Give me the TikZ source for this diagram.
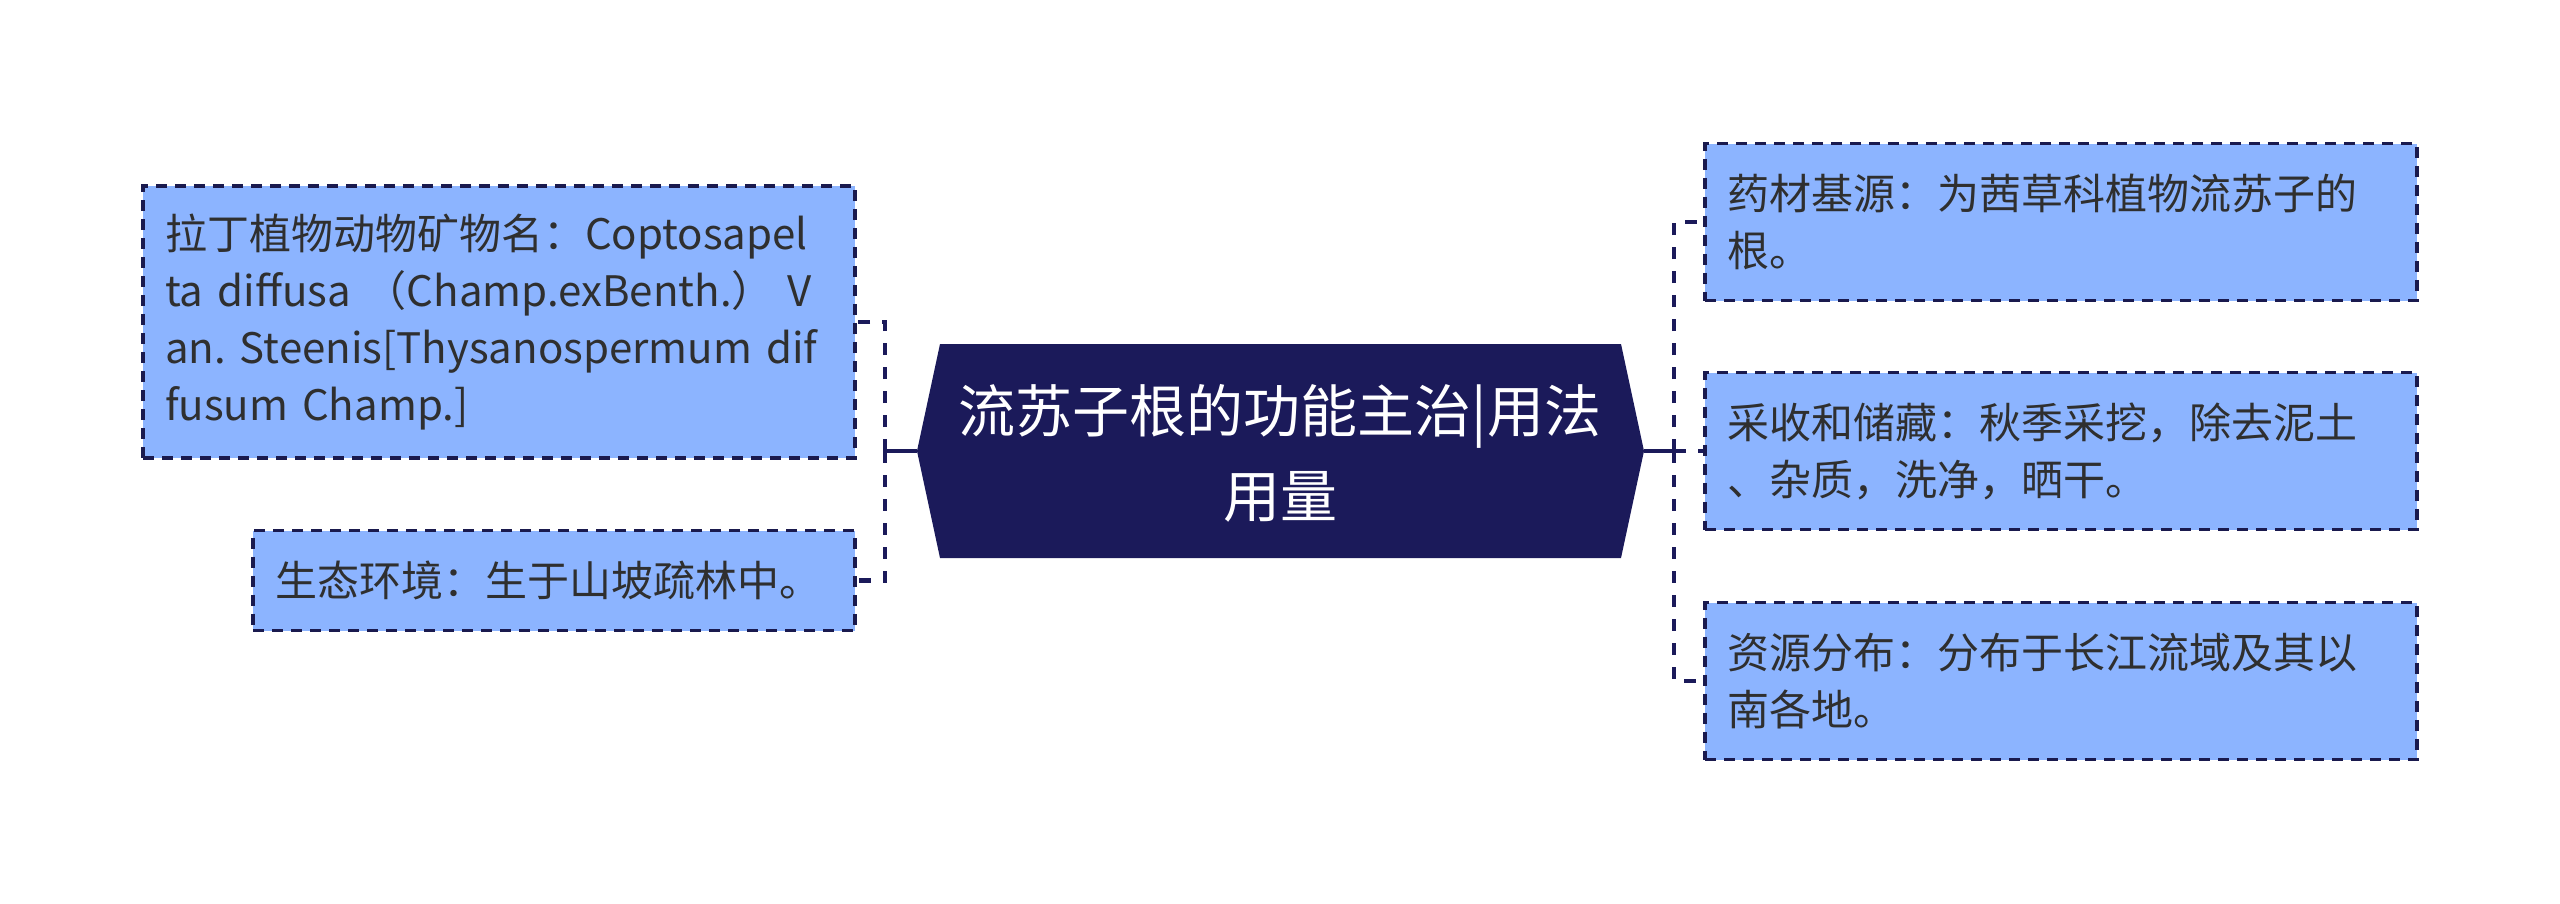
\documentclass[tikz,border=0pt]{standalone}
\usepackage{fontspec}
\setmainfont{Noto Sans CJK SC}
\frenchspacing
\definecolor{navy}{HTML}{1B1A5A}
\definecolor{edge}{HTML}{1A1A4E}
\definecolor{boxfill}{HTML}{8CB4FF}
\definecolor{txt}{HTML}{2F2F2F}
\tikzset{
  leafbox/.style={draw=edge, fill=boxfill, line width=3.5pt, dash pattern=on 11pt off 8pt,
    inner xsep=22pt, inner ysep=0pt, align=left, text=txt,
    font=\fontsize{42}{57}\selectfont},
  conn/.style={draw=navy, line width=4.5pt},
  connd/.style={draw=navy, line width=4.5pt, dash pattern=on 12pt off 12pt},
  centertext/.style={text=white, align=center, font=\fontsize{57}{85}\selectfont, inner sep=0pt}
}
\begin{document}
\begin{tikzpicture}[x=1pt,y=-1pt]
\useasboundingbox (0,0) rectangle (2560,903);
% central shape
\fill[navy] (917,451) -- (940,344) -- (1621,344) -- (1644,451) -- (1621,558) -- (940,558) -- cycle;
\node[centertext] (c) at (1280,453) {流苏子根的功能主治|用法\\用量};
\coordinate (cL) at (917,451);
\coordinate (cR) at (1644,451);
% left boxes
\node[leafbox, text width=668pt, minimum height=272pt] (b1) at (499,322)
  {拉丁植物动物矿物名：Coptosapel\\ta diffusa （Champ.exBenth.） V\\an. Steenis[Thysanospermum dif\\fusum Champ.]};
\node[leafbox, text width=558pt, minimum height=100pt] (b2) at (554,580.5)
  {生态环境：生于山坡疏林中。};
% right boxes
\node[leafbox, text width=668pt, minimum height=157pt] (r1) at (2061,222)
  {药材基源：为茜草科植物流苏子的\\根。};
\node[leafbox, text width=668pt, minimum height=157pt] (r2) at (2061,451)
  {采收和储藏：秋季采挖，除去泥土\\、杂质，洗净，晒干。};
\node[leafbox, text width=668pt, minimum height=157pt] (r3) at (2061,681)
  {资源分布：分布于长江流域及其以\\南各地。};
% connectors
\coordinate (jl) at (885,451);
\coordinate (jr) at (1674,451);
\draw[conn] (cL) -- (jl);
\draw[connd] (jl) |- (b1.east);
\draw[connd] (jl) |- (b2.east);
\draw[conn] (cR) -- (jr);
\draw[connd] (jr) |- (r1.west);
\draw[connd] (jr) -- (r2.west);
\draw[connd] (jr) |- (r3.west);
\end{tikzpicture}
\end{document}
